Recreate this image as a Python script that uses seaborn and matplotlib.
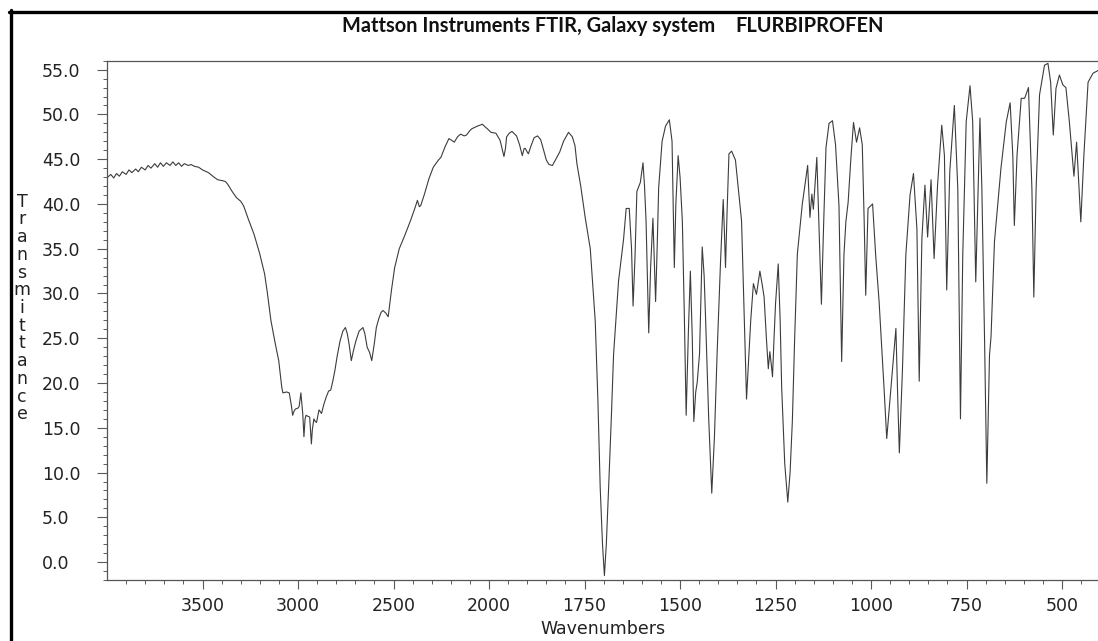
import numpy as np
import pandas as pd
import matplotlib
matplotlib.use("Agg")
import matplotlib.pyplot as plt
import seaborn as sns
from matplotlib.ticker import FixedLocator, FormatStrFormatter
from matplotlib.lines import Line2D

# ---------------- data ----------------
wavenumber = [
    3996, 3980, 3965, 3950, 3935, 3920, 3900, 3885, 3870, 3850, 3836, 3820, 3800, 3785,
    3770, 3750, 3735, 3720, 3705, 3689, 3670, 3655, 3640, 3625, 3610, 3595, 3575, 3560,
    3542, 3520, 3500, 3469, 3440, 3420, 3395, 3380, 3368, 3345, 3322, 3300, 3285, 3260,
    3230, 3200, 3175, 3160, 3142, 3120, 3101, 3085, 3079, 3060, 3046, 3035, 3028, 3020,
    3013, 3000, 2994, 2985, 2975, 2969, 2963, 2958, 2950, 2939, 2934, 2930, 2925, 2917,
    2910, 2903, 2890, 2877, 2865, 2853, 2840, 2829, 2818, 2807, 2795, 2780, 2765, 2752,
    2742, 2733, 2721, 2710, 2697, 2680, 2660, 2650, 2638, 2625, 2614, 2600, 2590, 2577,
    2565, 2555, 2540, 2528, 2510, 2494, 2470, 2439, 2410, 2387, 2375, 2365, 2358, 2338,
    2315, 2292, 2265, 2252, 2230, 2210, 2195, 2182, 2165, 2149, 2130, 2118, 2100, 2090,
    2060, 2035, 2020, 2009, 1995, 1982, 1971, 1965, 1961, 1957, 1954, 1947, 1940, 1928,
    1920, 1913, 1908, 1905, 1900, 1897, 1890, 1882, 1873, 1865, 1859, 1850, 1843, 1834,
    1825, 1815, 1805, 1792, 1782, 1775, 1770, 1760, 1748, 1735, 1722, 1715, 1709, 1703,
    1698, 1693, 1687, 1680, 1674, 1661, 1648, 1641, 1633, 1627, 1623, 1618, 1613, 1604,
    1597, 1593, 1589, 1582, 1577, 1571, 1567, 1564, 1560, 1556, 1547, 1538, 1528, 1521,
    1518, 1515, 1511, 1505, 1500, 1494, 1489, 1484, 1478, 1473, 1468, 1464, 1459, 1455,
    1449, 1442, 1437, 1433, 1425, 1417, 1410, 1403, 1394, 1387, 1384, 1381, 1377, 1372,
    1365, 1355, 1339, 1333, 1326, 1320, 1315, 1308, 1300, 1291, 1285, 1280, 1274, 1269,
    1265, 1261, 1258, 1254, 1250, 1243, 1238, 1234, 1226, 1218, 1212, 1206, 1200, 1193,
    1180, 1166, 1160, 1155, 1151, 1142, 1136, 1130, 1124, 1118, 1110, 1101, 1093, 1084,
    1080, 1077, 1071, 1066, 1060, 1053, 1046, 1038, 1030, 1023, 1018, 1014, 1008, 996,
    988, 979, 966, 959, 948, 935, 930, 926, 918, 909, 898, 889, 880, 874,
    867, 859, 852, 843, 835, 826, 815, 808, 802, 794, 782, 773, 766, 760,
    751, 741, 734, 726, 715, 710, 703, 697, 690, 686, 677, 660, 646, 636,
    629, 625, 618, 607, 598, 588, 579, 574, 568, 559, 546, 537, 530, 523,
    516, 507, 498, 490, 481, 469, 462, 451, 443, 432, 419, 406,
]
transmittance = [
    43.0, 43.3, 42.9, 43.4, 43.1, 43.6, 43.3, 43.8, 43.5, 43.9, 43.6, 44.1, 43.8, 44.3,
    44.0, 44.5, 44.1, 44.6, 44.2, 44.6, 44.3, 44.7, 44.3, 44.6, 44.2, 44.5, 44.3, 44.4,
    44.2, 44.1, 43.8, 43.5, 43.0, 42.7, 42.6, 42.5, 42.2, 41.4, 40.7, 40.3, 39.8, 38.3,
    36.6, 34.4, 32.2, 30.0, 27.0, 24.5, 22.5, 19.5, 18.9, 19.0, 18.9, 17.5, 16.4, 16.9,
    17.1, 17.2, 17.4, 18.9, 16.5, 14.0, 16.0, 16.4, 16.3, 16.2, 14.5, 13.2, 14.8, 16.0,
    15.7, 15.6, 17.0, 16.6, 17.6, 18.4, 19.1, 19.2, 20.2, 21.4, 23.0, 24.7, 25.8, 26.2,
    25.5, 24.4, 22.5, 23.6, 24.7, 25.8, 26.2, 25.5, 24.0, 23.4, 22.5, 24.5, 26.2, 27.2,
    27.9, 28.1, 27.8, 27.4, 30.5, 32.9, 35.0, 36.6, 38.2, 39.6, 40.4, 39.7, 39.8, 41.1,
    42.8, 44.1, 44.9, 45.2, 46.4, 47.3, 47.1, 46.9, 47.5, 47.8, 47.6, 47.7, 48.2, 48.4,
    48.7, 48.9, 48.6, 48.4, 48.0, 47.9, 47.1, 46.0, 45.3, 46.2, 47.5, 47.9, 48.1, 47.6,
    46.6, 45.4, 46.2, 46.2, 45.8, 45.6, 46.5, 47.4, 47.6, 47.2, 46.3, 44.9, 44.4, 44.3,
    45.0, 45.8, 47.0, 48.0, 47.5, 46.5, 44.5, 42.0, 38.4, 35.0, 26.9, 18.0, 8.3, 2.0,
    -1.5, 2.0, 8.3, 16.0, 23.2, 31.4, 36.0, 39.5, 39.5, 35.0, 28.6, 34.0, 41.4, 42.4,
    44.6, 42.0, 38.1, 25.6, 33.0, 38.4, 33.0, 29.1, 35.0, 41.8, 47.0, 48.7, 49.4, 47.0,
    40.0, 32.9, 40.0, 45.4, 43.0, 38.1, 28.0, 16.4, 26.0, 32.5, 25.0, 15.7, 19.0, 20.1,
    23.3, 35.2, 32.0, 27.0, 16.0, 7.7, 14.0, 23.3, 33.6, 40.5, 37.0, 32.9, 39.0, 45.6,
    45.9, 44.9, 38.1, 29.0, 18.2, 23.0, 27.0, 31.1, 29.9, 32.5, 31.0, 29.6, 25.0, 21.6,
    23.5, 22.0, 20.7, 25.0, 28.9, 33.3, 27.0, 19.5, 11.0, 6.7, 10.0, 15.8, 25.0, 34.4,
    40.0, 44.3, 38.5, 41.1, 39.4, 45.2, 37.0, 28.8, 38.0, 46.3, 49.0, 49.3, 46.6, 39.8,
    30.0, 22.4, 34.3, 38.0, 40.2, 45.0, 49.1, 46.9, 48.5, 46.6, 38.0, 29.8, 39.5, 40.0,
    34.3, 29.1, 19.4, 13.8, 19.4, 26.1, 18.0, 12.2, 21.3, 34.3, 41.0, 43.4, 37.2, 20.2,
    36.1, 42.1, 36.3, 42.7, 33.9, 42.1, 48.8, 45.4, 30.4, 43.6, 51.0, 41.7, 16.0, 34.3,
    49.2, 53.2, 49.2, 31.3, 49.6, 41.7, 25.0, 8.8, 23.1, 25.2, 35.8, 44.0, 49.2, 51.3,
    45.4, 37.6, 45.4, 51.8, 51.8, 53.0, 41.7, 29.6, 41.7, 52.2, 55.5, 55.7, 53.6, 47.7,
    52.9, 54.4, 53.3, 53.0, 49.2, 43.1, 46.9, 38.0, 45.4, 53.6, 54.6, 54.9,
]
x_major_ticks = [3500, 3000, 2500, 2000, 1750, 1500, 1250, 1000, 750, 500]
y_major_ticks = [0, 5, 10, 15, 20, 25, 30, 35, 40, 45, 50, 55]
title_left = "Mattson Instruments FTIR, Galaxy system"
title_right = "FLURBIPROFEN"
x_label = "Wavenumbers"
y_label = "Transmittance"

# ---------------- style ----------------
sns.set_theme(style="white")
plt.rcParams['font.family'] = ['DejaVu Sans']

W, H = 1098, 641
fig = plt.figure(figsize=(W / 100, H / 100), dpi=100)
fig.patch.set_facecolor("white")
ax = fig.add_axes([107 / W, 61 / H, 991 / W, 519.3 / H])
ax.set_facecolor("white")


# Galaxy-style two-scale wavenumber axis (2x expansion below 2000 cm-1)
def fwd(w):
    w = np.asarray(w, dtype=float)
    return np.where(w > 2000, 2000 + (w - 2000) / 2.0, w)


def inv(u):
    u = np.asarray(u, dtype=float)
    return np.where(u > 2000, 2000 + (u - 2000) * 2.0, u)


ax.set_xscale("function", functions=(fwd, inv))

df = pd.DataFrame({"wn": wavenumber, "T": transmittance})
sns.lineplot(data=df, x="wn", y="T", ax=ax, estimator=None, sort=False,
             color="#3c3c3c", linewidth=0.8)

ax.set_xlim(4000, 406)
ax.set_ylim(-2, 56)

x_minor = [v for v in range(3900, 2000, -100) if v not in x_major_ticks] + \
          [v for v in range(1950, 400, -50) if v not in x_major_ticks]
y_minor = [v for v in range(-2, 57) if v % 5 != 0]
ax.xaxis.set_major_locator(FixedLocator(x_major_ticks))
ax.xaxis.set_minor_locator(FixedLocator(x_minor))
ax.yaxis.set_major_locator(FixedLocator(y_major_ticks))
ax.yaxis.set_minor_locator(FixedLocator(y_minor))
ax.xaxis.set_major_formatter(FormatStrFormatter("%d"))
ax.yaxis.set_major_formatter(FormatStrFormatter("%.1f"))

tick_col = "#5a5a5a"
ax.tick_params(axis="x", which="major", direction="out", length=6.5, width=0.8,
               color=tick_col, labelsize=12.5, labelcolor="#222222", pad=5.5,
               bottom=True)
ax.tick_params(axis="x", which="minor", direction="out", length=3, width=0.7,
               color=tick_col, bottom=True)
ax.tick_params(axis="y", which="major", direction="out", length=7.2, width=0.8,
               color=tick_col, labelsize=12.5, labelcolor="#222222", pad=39.6,
               left=True)
ax.tick_params(axis="y", which="minor", direction="out", length=3.2, width=0.7,
               color=tick_col, left=True)
for lbl in ax.get_yticklabels():
    lbl.set_horizontalalignment("left")

for side in ["top", "left", "bottom"]:
    ax.spines[side].set_visible(True)
    ax.spines[side].set_color("#555555")
    ax.spines[side].set_linewidth(0.9)
ax.spines["right"].set_visible(False)
ax.grid(False)

ax.set_xlabel(x_label, fontsize=12.5, color="#222222", labelpad=3.5)
ax.set_ylabel("")
fig.text(22 / W, 1 - 308 / H, "\n".join(y_label), ha="center", va="center",
         multialignment="center", fontsize=12.5, color="#222222", linespacing=0.98)

# Title (two parts, bold sans)
t1 = fig.text(342 / W, 1 - 32.5 / H, title_left, ha="left", va="baseline",
              fontsize=13.5, fontweight="bold", family=["Lato", "DejaVu Sans"],
              color="#111111")
fig.canvas.draw()
r = fig.canvas.get_renderer()
title_size = 13.5 * 373.0 / t1.get_window_extent(r).width
t1.set_fontsize(title_size)
t2 = fig.text(735 / W, 1 - 32.5 / H, title_right, ha="left", va="baseline",
              fontsize=title_size, fontweight="bold", family=["Lato", "DejaVu Sans"],
              color="#111111")

# scanned page border (top and left)
fig.add_artist(Line2D([9 / W, 1.0], [1 - 11.5 / H, 1 - 11.5 / H],
                      transform=fig.transFigure, color="black", linewidth=2.4))
fig.add_artist(Line2D([10.5 / W, 10.5 / W], [0.0, 1 - 10 / H],
                      transform=fig.transFigure, color="black", linewidth=2.4))

fig.savefig("out.png", dpi=100, facecolor="white")
